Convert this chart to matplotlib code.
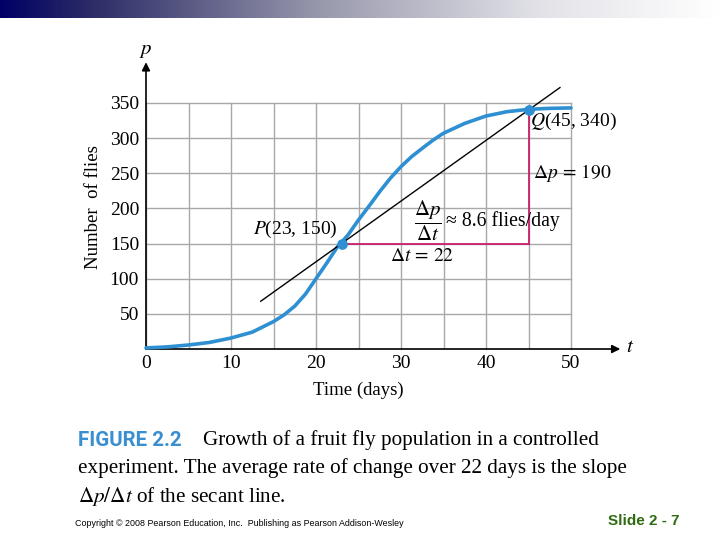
import numpy as np
import matplotlib
matplotlib.use("Agg")
import matplotlib.pyplot as plt
from matplotlib.colors import LinearSegmentedColormap

# ---- data ----
t_days = [0, 2.5, 5, 7.5, 10, 12.5, 15, 16.25, 17.5, 18.75, 20, 21.25, 22.5, 23.75, 25, 26.25,
          27.5, 28.75, 30, 31.25, 32.5, 33.75, 35, 37.5, 40, 42.5, 45, 47.5, 50]
flies = [1.5, 3, 5.7, 9.4, 15.6, 24, 39, 48.6, 61, 78, 100, 122, 145, 162, 183.6, 203.5,
         224, 243, 259.5, 273.7, 285.5, 297, 307, 321, 331.5, 337.7, 341, 342.4, 343]
P_pt = (23, 150)
Q_pt = (45, 340)
secant_t = [13.5, 48.7]
x_ticks = [0, 10, 20, 30, 40, 50]
y_ticks = [50, 100, 150, 200, 250, 300, 350]

plt.rcParams['font.family'] = ['Liberation Serif', 'DejaVu Serif']
plt.rcParams['mathtext.fontset'] = 'stix'

W, H = 720, 540
fig = plt.figure(figsize=(7.2, 5.4), dpi=100)

def fx(px):
    return px / W

def fy(py):
    return 1 - py / H

# top gradient bar
gax = fig.add_axes([0, fy(18), 1, 18 / H])
cmap = LinearSegmentedColormap.from_list('g', [(0, '#000066'), (0.12, '#2a2a66'), (0.45, '#9a9aae'), (0.75, '#e2e2e8'), (1, '#ffffff')])
gax.imshow(np.linspace(0, 1, 512)[None, :], aspect='auto', cmap=cmap, extent=[0, 1, 0, 1])
gax.axis('off')

# main axes
left, right, top, bottom = 146, 571, 103, 349
ax = fig.add_axes([fx(left), fy(bottom), (right - left) / W, (bottom - top) / H])
ax.set_xlim(0, 50)
ax.set_ylim(0, 350)
for s in ax.spines.values():
    s.set_visible(False)

ax.set_xticks(x_ticks)
ax.set_xticks(np.arange(5, 50, 10), minor=True)
ax.set_yticks(y_ticks)
ax.tick_params(which='both', length=0)
ax.tick_params(axis='x', labelsize=14, pad=4)
ax.tick_params(axis='y', labelsize=14, pad=5)
ax.grid(which='both', color='#a8a8a8', linewidth=1.0)
for gl in ax.get_xgridlines() + ax.get_ygridlines():
    gl.set_clip_on(False)
ax.set_axisbelow(True)

# axes with arrows
ax.annotate('', xy=(55.8, 0), xytext=(0, 0), annotation_clip=False,
            arrowprops=dict(arrowstyle='-|>', color='black', lw=1.2, mutation_scale=12, shrinkA=0, shrinkB=0))
ax.annotate('', xy=(0, 408), xytext=(0, 0), annotation_clip=False,
            arrowprops=dict(arrowstyle='-|>', color='black', lw=1.2, mutation_scale=12, shrinkA=0, shrinkB=0))

# curve
ax.plot(t_days, flies, color='#2e8fd2', lw=2.6, clip_on=False, zorder=4,
        solid_joinstyle='round', solid_capstyle='round')

# secant line
slope = (Q_pt[1] - P_pt[1]) / (Q_pt[0] - P_pt[0])
sec_p = [P_pt[1] + slope * (t - P_pt[0]) for t in secant_t]
ax.plot(secant_t, sec_p, color='black', lw=1.0, clip_on=False, zorder=5)

# delta lines
mag = '#cc1f6a'
ax.plot([P_pt[0], Q_pt[0]], [P_pt[1], P_pt[1]], color=mag, lw=1.3, zorder=3)
ax.plot([Q_pt[0], Q_pt[0]], [P_pt[1], Q_pt[1]], color=mag, lw=1.3, zorder=3)

ax.scatter([P_pt[0], Q_pt[0]], [P_pt[1], Q_pt[1]], s=45, color='#2e8fd2', zorder=6, clip_on=False)

# annotations
ax.text(22.5, 170, r'$P$(23, 150)', fontsize=14, ha='right', va='center')
ax.text(45.2, 324, r'$Q$(45, 340)', fontsize=14, ha='left', va='center')
ax.text(45.5, 250, r'$\Delta p\,=\,190$', fontsize=14, ha='left', va='center')
ax.text(33.2, 183, r'$\dfrac{\Delta p}{\Delta t}$', fontsize=15, ha='center', va='center')
ax.text(35.3, 182, '≈ 8.6 flies/day', fontsize=14.2, ha='left', va='center')
ax.text(28.7, 131, r'$\Delta t\,=\,22$', fontsize=14, ha='left', va='center')

# axis labels
fig.text(fx(358), fy(390), 'Time (days)', fontsize=13.5, ha='center', va='center')
fig.text(fx(93), fy(207), 'Number  of flies', fontsize=13.5, ha='center', va='center', rotation=90)
fig.text(fx(146), fy(50), r'$p$', fontsize=15, ha='center', va='center')
fig.text(fx(630), fy(348), r'$t$', fontsize=15, ha='center', va='center')

# caption
fig.text(fx(78), fy(440), 'FIGURE 2.2', fontsize=14.8, fontweight='bold', color='#3a8fd0',
         family=['Roboto', 'Liberation Sans'], fontstretch='condensed', ha='left', va='center')
fig.text(fx(203), fy(440), 'Growth of a fruit fly population in a controlled', fontsize=15.2, ha='left', va='center')
fig.text(fx(78), fy(468), 'experiment. The average rate of change over 22 days is the slope', fontsize=15.2, ha='left', va='center')
fig.text(fx(78), fy(496), r'$\Delta p/\Delta t$ of the secant line.', fontsize=15.2, ha='left', va='center')

# footer
fig.text(fx(75), fy(524), 'Copyright © 2008 Pearson Education, Inc.  Publishing as Pearson Addison-Wesley', fontsize=6.4,
         family=['Liberation Sans', 'DejaVu Sans'], ha='left', va='center')
fig.text(fx(680), fy(521), 'Slide 2 - 7', fontsize=11, fontweight='bold', color='#2f6b10',
         family=['Liberation Sans', 'DejaVu Sans'], ha='right', va='center')

fig.savefig('out.png', dpi=100)
